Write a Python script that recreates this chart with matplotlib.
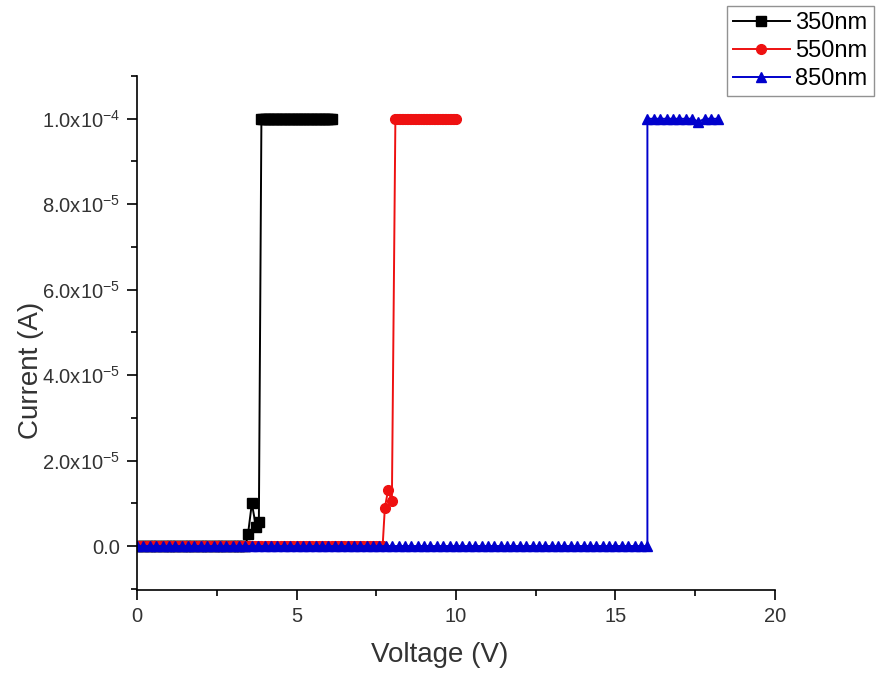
import numpy as np
import matplotlib.pyplot as plt
from matplotlib.ticker import FuncFormatter, MultipleLocator

plt.rcParams['font.family'] = ['Liberation Sans', 'DejaVu Sans']
plt.rcParams['mathtext.fontset'] = 'custom'
plt.rcParams['mathtext.rm'] = 'Liberation Sans'
plt.rcParams['mathtext.it'] = 'Liberation Sans:italic'

# 350 nm sweep
v_350 = np.concatenate([np.round(np.arange(0, 3.45, 0.1), 2),
                        [3.48, 3.6, 3.73, 3.82],
                        np.round(np.arange(3.9, 6.11, 0.05), 2)])
i_350 = np.concatenate([np.zeros(len(np.arange(0, 3.45, 0.1))),
                        [2.8e-6, 1.0e-5, 4.5e-6, 5.6e-6],
                        np.full(len(np.arange(3.9, 6.11, 0.05)), 1.0e-4)])

# 550 nm sweep
v_550 = np.concatenate([np.round(np.arange(0, 7.75, 0.1), 2),
                        [7.77, 7.87, 7.99],
                        np.round(np.arange(8.1, 10.01, 0.05), 2)])
i_550 = np.concatenate([np.zeros(len(np.arange(0, 7.75, 0.1))),
                        [9.0e-6, 1.3e-5, 1.05e-5],
                        np.full(len(np.arange(8.1, 10.01, 0.05)), 1.0e-4)])

# 850 nm sweep
v_850_low = np.round(np.arange(0, 16.01, 0.2), 2)
v_850_high = np.round(np.arange(16.0, 18.21, 0.2), 2)
v_850 = np.concatenate([v_850_low, v_850_high])
i_850_high = np.full(len(v_850_high), 1.0e-4)
i_850_high[8] = 9.93e-5  # small dip near 17.6 V
i_850 = np.concatenate([np.zeros(len(v_850_low)), i_850_high])

fig = plt.figure(figsize=(8.76, 6.74), dpi=100)
ax = fig.add_axes([0.1564, 0.1246, 0.7283, 0.7626])

l1, = ax.plot(v_350, i_350, color='black', lw=1.4, marker='s', ms=6.5,
              label='350nm')
l2, = ax.plot(v_550, i_550, color='#ee1111', lw=1.4, marker='o', ms=7,
              label='550nm')
l3, = ax.plot(v_850, i_850, color='#0000cc', lw=1.4, marker='^', ms=7.5,
              label='850nm')

ax.set_xlim(0, 20)
ax.set_ylim(-1.03e-5, 1.1e-4)

ax.xaxis.set_major_locator(MultipleLocator(5))
ax.xaxis.set_minor_locator(MultipleLocator(2.5))
ax.yaxis.set_major_locator(MultipleLocator(2e-5))
ax.yaxis.set_minor_locator(MultipleLocator(1e-5))


def sci_fmt(val, pos):
    if abs(val) < 1e-12:
        return '0.0'
    exp = int(np.floor(np.log10(abs(val))))
    mant = val / 10 ** exp
    return r'%.1fx10$^{%d}$' % (mant, exp)


ax.yaxis.set_major_formatter(FuncFormatter(sci_fmt))

for side in ['top', 'right']:
    ax.spines[side].set_visible(False)
for side in ['left', 'bottom']:
    ax.spines[side].set_linewidth(1.2)

ax.tick_params(which='major', direction='out', length=7, width=1.2,
               labelsize=14.5, colors='black', labelcolor='#333333', pad=5)
ax.tick_params(which='minor', direction='out', length=4, width=1.2)

ax.set_xlabel('Voltage (V)', fontsize=20, color='#333333')
ax.set_ylabel('Current (A)', fontsize=20, color='#333333')
ax.xaxis.set_label_coords(0.475, -0.101)
ax.yaxis.set_label_coords(-0.146, 0.428)

leg = fig.legend(handles=[l1, l2, l3], loc='upper left',
                 bbox_to_anchor=(727 / 876, 0.991), fontsize=17,
                 frameon=True, fancybox=False, edgecolor='#777777',
                 handlelength=2.4, handletextpad=0.25, borderpad=0.25,
                 labelspacing=0.25, borderaxespad=0.0)
leg.get_frame().set_linewidth(1.0)

fig.savefig('out.png', dpi=100)
